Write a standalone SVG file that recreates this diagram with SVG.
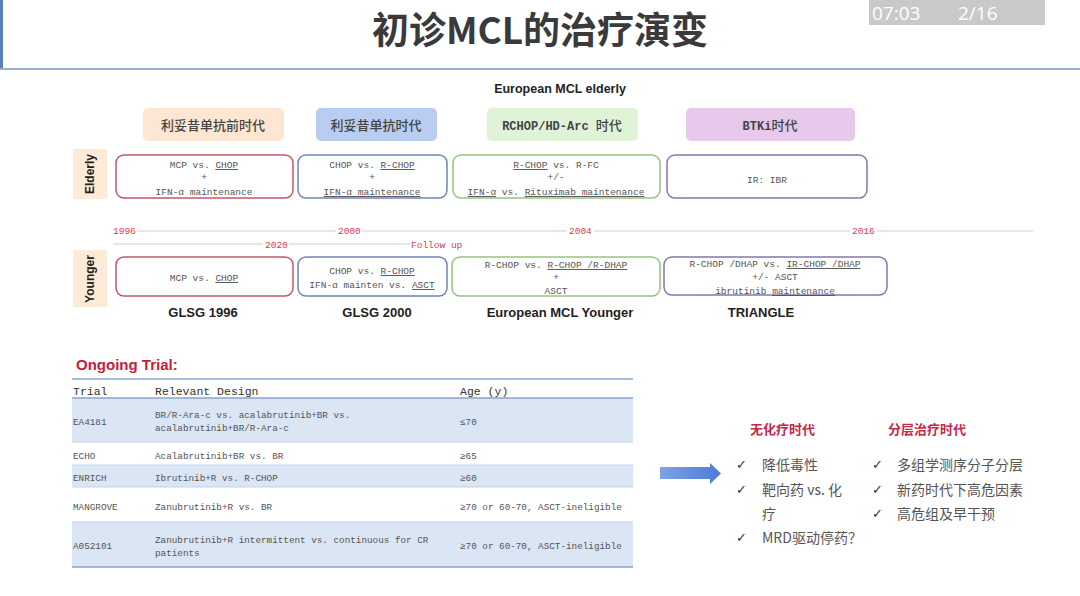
<svg xmlns="http://www.w3.org/2000/svg" width="1080" height="596" viewBox="0 0 1080 596">
<style>
.title{font-family:"Noto Sans CJK SC","Liberation Sans",sans-serif;font-weight:700;font-size:37px;fill:#3a3a3a}
.sub{font-family:"Liberation Sans",Arial,sans-serif;font-weight:700;font-size:12.5px;fill:#222}
.hdr{font-family:"Noto Sans CJK SC",sans-serif;font-weight:500;font-size:13px;fill:#444}
.hdrm{font-family:"Liberation Mono","Noto Sans CJK SC",monospace;font-weight:700;font-size:12px;fill:#444}
.bx{font-family:"Liberation Mono","Noto Sans CJK SC",monospace;font-size:9.5px;fill:#555}
.u{text-decoration:underline}
.yr{font-family:"Liberation Mono",monospace;font-size:9.5px;fill:#d0404f}
.tl{stroke:#cfcfcf;stroke-width:1.2}
.lbl{font-family:"Liberation Sans",Arial,sans-serif;font-weight:700;font-size:12px;fill:#222}
.side{fill:#fdebd8}
.cap{font-family:"Liberation Sans",Arial,sans-serif;font-weight:700;font-size:13px;fill:#222}
.tb{font-family:"Liberation Mono","Noto Sans CJK SC",monospace;font-size:9.3px;fill:#555}
.th{font-family:"Liberation Mono",monospace;font-size:11.5px;fill:#333}
.row{fill:#dbe6f5}
.sep{stroke:#c3d3ea;stroke-width:1}
.rt{font-family:"Noto Sans CJK SC",sans-serif;font-weight:700;font-size:13px;fill:#c4284a}
.li{font-family:"Noto Sans CJK SC",sans-serif;font-size:14px;fill:#555}
.ck{font-family:"DejaVu Sans",sans-serif;font-size:13px;fill:#333}
</style>
<defs>
<linearGradient id="ag" x1="0" y1="0" x2="1" y2="0">
<stop offset="0" stop-color="#7ea3e6"/>
<stop offset="1" stop-color="#4a7bd6"/>
</linearGradient>
</defs>
<rect width="1080" height="596" fill="#ffffff"/>
<!-- header -->
<rect x="0" y="0" width="3" height="70" fill="#5b7fb8"/>
<line x1="0" y1="69" x2="1080" y2="69" stroke="#9cafd2" stroke-width="2"/>
<text class="title" x="540" y="44" text-anchor="middle">初诊MCL的治疗演变</text>
<rect x="869" y="0" width="176" height="25" fill="#c9c9c9"/>
<text x="872" y="20" font-family="Open Sans,sans-serif" font-size="19" fill="#ffffff">07:03</text>
<text x="958" y="20" font-family="Open Sans,sans-serif" font-size="19" fill="#ffffff">2/16</text>
<text class="sub" x="560" y="93" text-anchor="middle">European MCL elderly</text>

<!-- era headers -->
<g id="era1"><rect x="143" y="108" width="141" height="33" rx="5" fill="#fde6d2"/><text class="hdr" x="213" y="130" text-anchor="middle">利妥昔单抗前时代</text></g>
<g id="era2"><rect x="316" y="108" width="121" height="33" rx="5" fill="#b9cdf0"/><text class="hdr" x="376" y="130" text-anchor="middle">利妥昔单抗时代</text></g>
<g id="era3"><rect x="487" y="108" width="151" height="33" rx="5" fill="#dff3d6"/><text class="hdrm" x="562" y="130" text-anchor="middle">RCHOP/HD-Arc <tspan class="hdr">时代</tspan></text></g>
<g id="era4"><rect x="686" y="108" width="169" height="33" rx="5" fill="#e6c9eb"/><text class="hdrm" x="770" y="130" text-anchor="middle">BTKi<tspan class="hdr">时代</tspan></text></g>

<!-- side labels -->
<g id="elderly"><rect class="side" x="73" y="149" width="34" height="50"/><text class="lbl" transform="translate(94,174) rotate(-90)" text-anchor="middle">Elderly</text></g>
<g id="younger"><rect class="side" x="73" y="250" width="34" height="57"/><text class="lbl" transform="translate(94,279) rotate(-90)" text-anchor="middle">Younger</text></g>

<!-- elderly boxes -->
<g id="e1"><rect x="116" y="155" width="177" height="43" rx="8" fill="#fff" stroke="#c4566a" stroke-width="1.5"/>
<text class="bx" x="204" y="168" text-anchor="middle">MCP vs. <tspan class="u">CHOP</tspan></text>
<text class="bx" x="204" y="180" text-anchor="middle">+</text>
<text class="bx" x="204" y="195" text-anchor="middle">IFN-α maintenance</text></g>
<g id="e2"><rect x="298" y="155" width="149" height="43" rx="8" fill="#fff" stroke="#7282bb" stroke-width="1.5"/>
<text class="bx" x="372" y="168" text-anchor="middle">CHOP vs. <tspan class="u">R-CHOP</tspan></text>
<text class="bx" x="372" y="180" text-anchor="middle">+</text>
<text class="bx u" x="372" y="195" text-anchor="middle">IFN-α maintenance</text></g>
<g id="e3"><rect x="453" y="155" width="207" height="43" rx="8" fill="#fff" stroke="#96c47c" stroke-width="1.5"/>
<text class="bx" x="556" y="168" text-anchor="middle"><tspan class="u">R-CHOP</tspan> vs. R-FC</text>
<text class="bx" x="556" y="180" text-anchor="middle">+/-</text>
<text class="bx" x="556" y="195" text-anchor="middle"><tspan class="u">IFN-α</tspan>  vs. <tspan class="u">Rituximab maintenance</tspan></text></g>
<g id="e4"><rect x="667" y="155" width="200" height="43" rx="8" fill="#fff" stroke="#8577ad" stroke-width="1.5"/>
<text class="bx" x="767" y="183" text-anchor="middle">IR: IBR</text></g>

<!-- timeline -->
<g id="connectors">
<line class="tl" x1="137" y1="231" x2="336" y2="231"/>
<line class="tl" x1="362" y1="231" x2="567" y2="231"/>
<line class="tl" x1="594" y1="231" x2="850" y2="231"/>
<line class="tl" x1="877" y1="231" x2="1033" y2="231"/>
<line class="tl" x1="113" y1="244" x2="263" y2="244"/>
<line class="tl" x1="289" y1="244" x2="410" y2="244"/>
</g>
<text class="yr" x="113" y="234">1996</text>
<text class="yr" x="338" y="234">2000</text>
<text class="yr" x="569" y="234">2004</text>
<text class="yr" x="852" y="234">2016</text>
<text class="yr" x="265" y="248">2020</text>
<text class="yr" x="411" y="248">Follow up</text>

<!-- younger boxes -->
<g id="y1"><rect x="116" y="257" width="177" height="39" rx="8" fill="#fff" stroke="#c4566a" stroke-width="1.5"/>
<text class="bx" x="204" y="281" text-anchor="middle">MCP vs. <tspan class="u">CHOP</tspan></text></g>
<g id="y2"><rect x="298" y="257" width="149" height="39" rx="8" fill="#fff" stroke="#7282bb" stroke-width="1.5"/>
<text class="bx" x="372" y="274" text-anchor="middle">CHOP vs. <tspan class="u">R-CHOP</tspan></text>
<text class="bx" x="372" y="288" text-anchor="middle">IFN-α mainten vs. <tspan class="u">ASCT</tspan></text></g>
<g id="y3"><rect x="452" y="257" width="208" height="39" rx="8" fill="#fff" stroke="#96c47c" stroke-width="1.5"/>
<text class="bx" x="556" y="268" text-anchor="middle">R-CHOP vs. <tspan class="u">R-CHOP /R-DHAP</tspan></text>
<text class="bx" x="556" y="280" text-anchor="middle">+</text>
<text class="bx" x="556" y="294" text-anchor="middle">ASCT</text></g>
<g id="y4"><rect x="664" y="257" width="223" height="38" rx="8" fill="#fff" stroke="#8577ad" stroke-width="1.5"/>
<text class="bx" x="775" y="267" text-anchor="middle">R-CHOP /DHAP vs. <tspan class="u">IR-CHOP /DHAP</tspan></text>
<text class="bx" x="775" y="280" text-anchor="middle">+/- ASCT</text>
<text class="bx" x="775" y="294" text-anchor="middle">ibrutinib <tspan class="u">maintenance</tspan></text></g>

<text class="cap" x="203" y="317" text-anchor="middle">GLSG 1996</text>
<text class="cap" x="377" y="317" text-anchor="middle">GLSG 2000</text>
<text class="cap" x="560" y="317" text-anchor="middle">European MCL Younger</text>
<text class="cap" x="761" y="317" text-anchor="middle">TRIANGLE</text>

<!-- table -->
<text x="76" y="370" font-family="Liberation Sans,Arial,sans-serif" font-weight="700" font-size="15" fill="#c4203c">Ongoing Trial:</text>
<g id="table">
<rect class="row" x="72" y="398" width="561" height="44"/>
<rect class="row" x="72" y="465" width="561" height="22"/>
<rect class="row" x="72" y="522" width="561" height="45"/>
<line class="sep" x1="72" y1="442" x2="633" y2="442"/>
<line class="sep" x1="72" y1="465" x2="633" y2="465"/>
<line class="sep" x1="72" y1="487" x2="633" y2="487"/>
<line class="sep" x1="72" y1="522" x2="633" y2="522"/>
<line x1="72" y1="379" x2="633" y2="379" stroke="#8aa3cc" stroke-width="1.5"/>
<line x1="72" y1="398" x2="633" y2="398" stroke="#8aa3cc" stroke-width="1.5"/>
<line x1="72" y1="567" x2="633" y2="567" stroke="#8aa3cc" stroke-width="1.5"/>
<text class="th" x="73" y="395">Trial</text>
<text class="th" x="155" y="395">Relevant Design</text>
<text class="th" x="460" y="395">Age (y)</text>
<text class="tb" x="73" y="425">EA4181</text>
<text class="tb" x="155" y="418">BR/R-Ara-c vs. acalabrutinib+BR vs.</text>
<text class="tb" x="155" y="431">acalabrutinib+BR/R-Ara-c</text>
<text class="tb" x="460" y="425">≤70</text>
<text class="tb" x="73" y="459">ECHO</text>
<text class="tb" x="155" y="459">Acalabrutinib+BR vs. BR</text>
<text class="tb" x="460" y="459">≥65</text>
<text class="tb" x="73" y="481">ENRICH</text>
<text class="tb" x="155" y="481">Ibrutinib+R vs. R-CHOP</text>
<text class="tb" x="460" y="481">≥60</text>
<text class="tb" x="73" y="510">MANGROVE</text>
<text class="tb" x="155" y="510">Zanubrutinib+R vs. BR</text>
<text class="tb" x="460" y="510">≥70 or 60-70, ASCT-ineligible</text>
<text class="tb" x="73" y="549">A052101</text>
<text class="tb" x="155" y="543">Zanubrutinib+R intermittent vs. continuous for CR</text>
<text class="tb" x="155" y="556">patients</text>
<text class="tb" x="460" y="549">≥70 or 60-70, ASCT-ineligible</text>
</g>

<!-- arrow -->
<g id="arrow"><polygon points="660,467 710,467 710,463 721,473.5 710,484 710,479 660,479" fill="url(#ag)"/></g>

<!-- right side -->
<g id="nochemo">
<text class="rt" x="750" y="434">无化疗时代</text>
<text class="ck" x="736" y="469">✓</text><text class="li" x="762" y="470">降低毒性</text>
<text class="ck" x="736" y="494">✓</text><text class="li" x="762" y="495">靶向药 vs. 化</text>
<text class="li" x="762" y="519">疗</text>
<text class="ck" x="736" y="542">✓</text><text class="li" x="762" y="543">MRD驱动停药？</text>
</g>
<g id="strat">
<text class="rt" x="888" y="434">分层治疗时代</text>
<text class="ck" x="872" y="469">✓</text><text class="li" x="897" y="470">多组学测序分子分层</text>
<text class="ck" x="872" y="494">✓</text><text class="li" x="897" y="495">新药时代下高危因素</text>
<text class="ck" x="872" y="518">✓</text><text class="li" x="897" y="519">高危组及早干预</text>
</g>
</svg>
